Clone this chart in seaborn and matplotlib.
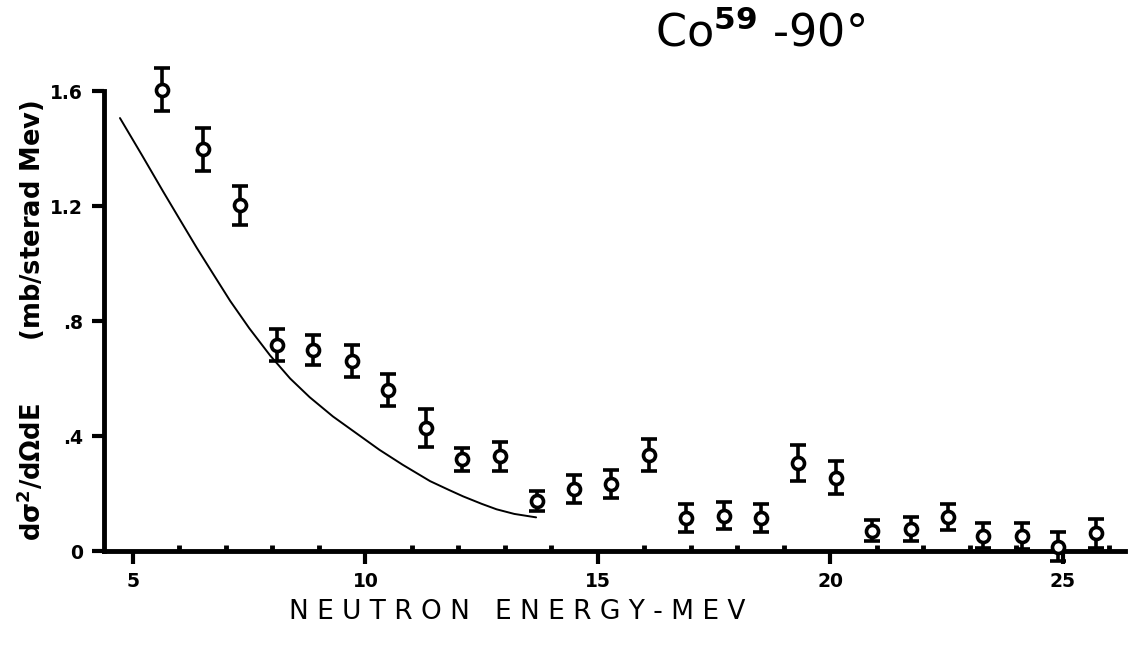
import numpy as np
import pandas as pd
import matplotlib
matplotlib.use("Agg")
import matplotlib.pyplot as plt
import seaborn as sns

# ---- data ----
energy = [5.63, 6.50, 7.31, 8.09, 8.88, 9.70, 10.48, 11.30, 12.08, 12.90, 13.68, 14.48, 15.29,
          16.10, 16.89, 17.70, 18.50, 19.31, 20.11, 20.89, 21.73, 22.53, 23.29, 24.11, 24.90, 25.72]
xsec = [1.605, 1.397, 1.203, 0.717, 0.699, 0.661, 0.560, 0.428, 0.320, 0.330, 0.174, 0.216, 0.233,
        0.334, 0.114, 0.123, 0.114, 0.307, 0.255, 0.071, 0.077, 0.119, 0.053, 0.053, 0.015, 0.062]
xsec_err = [0.075, 0.075, 0.068, 0.055, 0.053, 0.057, 0.055, 0.065, 0.040, 0.050, 0.036, 0.050, 0.050,
            0.054, 0.048, 0.047, 0.048, 0.063, 0.058, 0.037, 0.041, 0.045, 0.044, 0.045, 0.050, 0.050]

curve_energy = [4.72, 5.2, 5.65, 6.0, 6.37, 6.7, 7.09, 7.5, 7.95, 8.38, 8.8, 9.3, 9.8, 10.3, 10.8,
                11.39, 11.8, 12.10, 12.5, 12.82, 13.2, 13.67]
curve_xsec = [1.506, 1.375, 1.25, 1.155, 1.055, 0.97, 0.87, 0.775, 0.68, 0.60, 0.535, 0.468, 0.41,
              0.352, 0.30, 0.243, 0.212, 0.19, 0.164, 0.145, 0.129, 0.117]

x_ticks = [5, 10, 15, 20, 25]
x_ticklabels = ["5", "10", "15", "20", "25"]
x_minor = [6, 7, 8, 9, 11, 12, 13, 14, 16, 17, 18, 19, 21, 22, 23, 24, 26]
y_ticks = [0, 0.4, 0.8, 1.2, 1.6]
y_ticklabels = ["0", ".4", ".8", "1.2", "1.6"]

title_text = "Co$^{\\mathbf{59}}$ -90°"
xlabel_text = "N E U T R O N   E N E R G Y - M E V"
ylabel_text = "d$\\mathbf{\\sigma^2}$/d$\\mathbf{\\Omega}$dE       (mb/sterad Mev)"

pts = pd.DataFrame({"E": energy, "S": xsec, "err": xsec_err})
cur = pd.DataFrame({"E": curve_energy, "S": curve_xsec})

sns.set_theme(style="white")
plt.rcParams["font.family"] = ["DejaVu Sans"]
plt.rcParams["mathtext.fontset"] = "dejavusans"
plt.rcParams["text.color"] = "black"
plt.rcParams["axes.labelcolor"] = "black"
plt.rcParams["xtick.color"] = "black"
plt.rcParams["ytick.color"] = "black"

fig = plt.figure(figsize=(11.35, 6.53), dpi=100)
ax = fig.add_axes([0.0916, 0.1562, 0.8994, 0.7044])

sns.lineplot(data=cur, x="E", y="S", ax=ax, color="black", linewidth=1.4, sort=False)
eb = ax.errorbar(pts["E"], pts["S"], yerr=pts["err"], fmt="none", ecolor="black",
                 elinewidth=2.6, capsize=5.5, capthick=2.6, zorder=3)
for artist in eb.lines[1] + eb.lines[2]:
    artist.set_clip_on(False)
sns.scatterplot(data=pts, x="E", y="S", ax=ax, marker="o", s=75, facecolor="white",
                edgecolor="black", linewidth=2.6, zorder=4)
for coll in ax.collections:
    coll.set_clip_on(False)

ax.set_xlim(4.376, 26.33)
ax.set_ylim(0, 1.6)

for side in ["top", "right"]:
    ax.spines[side].set_visible(False)
for side in ["left", "bottom"]:
    ax.spines[side].set_linewidth(3.5)
    ax.spines[side].set_color("black")
ax.spines["left"].set_bounds(0, 1.6)

ax.set_xticks(x_ticks)
ax.set_xticklabels(x_ticklabels, fontsize=13.5, fontweight="bold")
ax.set_xticks(x_minor, minor=True)
ax.set_yticks(y_ticks)
ax.set_yticklabels(y_ticklabels, fontsize=13.5, fontweight="bold")

ax.tick_params(axis="x", which="major", direction="out", length=9, width=3, pad=6, bottom=True)
ax.tick_params(axis="x", which="minor", direction="in", length=4, width=3.5, bottom=True)
ax.tick_params(axis="y", which="major", direction="out", length=9, width=3, pad=6, left=True)

ax.set_xlabel(xlabel_text, fontsize=19)
ax.xaxis.set_label_coords(0.405, -0.105)
ax.set_ylabel(ylabel_text, fontsize=18.5, fontweight="bold")
ax.yaxis.set_label_coords(-0.056, 0.5)

fig.text(0.67, 0.915, title_text, fontsize=32, ha="center", va="bottom")

fig.savefig("out.png", dpi=100, facecolor="white")
